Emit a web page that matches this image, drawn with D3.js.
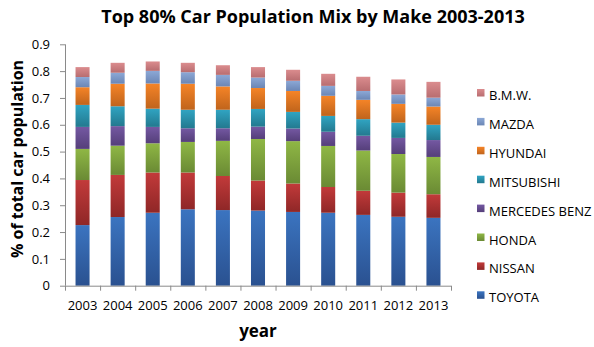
<!DOCTYPE html>
<html>
<head>
<meta charset="utf-8">
<script src="https://cdn.jsdelivr.net/npm/d3@7"></script>
<style>
  html, body { margin: 0; padding: 0; background: #fff; }
  svg { display: block; font-family: "Open Sans", "Liberation Sans", sans-serif; }
</style>
</head>
<body>
<svg id="chart" width="594" height="347"></svg>
<script>
const years = ["2003","2004","2005","2006","2007","2008","2009","2010","2011","2012","2013"];
const makes = ["TOYOTA","NISSAN","HONDA","MERCEDES BENZ","MITSUBISHI","HYUNDAI","MAZDA","B.M.W."];
const toyota     = [0.226,0.256,0.272,0.285,0.282,0.280,0.275,0.272,0.264,0.257,0.253];
const nissan     = [0.168,0.157,0.150,0.137,0.127,0.112,0.106,0.096,0.090,0.090,0.088];
const honda      = [0.116,0.109,0.109,0.114,0.131,0.155,0.158,0.153,0.150,0.144,0.139];
const mercedes   = [0.082,0.073,0.061,0.051,0.047,0.046,0.047,0.053,0.055,0.060,0.063];
const mitsubishi = [0.082,0.074,0.068,0.069,0.069,0.066,0.062,0.059,0.062,0.057,0.057];
const hyundai    = [0.066,0.084,0.094,0.097,0.087,0.078,0.078,0.075,0.072,0.070,0.068];
const mazda      = [0.038,0.041,0.047,0.043,0.043,0.039,0.038,0.037,0.033,0.035,0.033];
const bmw        = [0.037,0.037,0.035,0.035,0.036,0.039,0.041,0.045,0.053,0.056,0.059];
const yTicks = [0,0.1,0.2,0.3,0.4,0.5,0.6,0.7,0.8,0.9];
const seriesValues = [toyota,nissan,honda,mercedes,mitsubishi,hyundai,mazda,bmw];
const colorsTop    = ["#3b74c0","#c23a3a","#8fb745","#7458a2","#30a4c2","#f58427","#8ca8d6","#db8c8e"];
const colorsBottom = ["#2a5190","#8f2727","#6a8a34","#553f7a","#23798f","#c0641c","#6b86b5","#b86d70"];

const rows = years.map((yr, i) => {
  const r = { year: yr };
  makes.forEach((m, k) => r[m] = seriesValues[k][i]);
  return r;
});
const stacked = d3.stack().keys(makes)(rows);

const svg = d3.select("#chart");
const pLeft = 65, pRight = 451, pTop = 44.3, pBottom = 285.7;

const x = d3.scaleBand().domain(years).range([pLeft, pRight]).paddingInner(0.6).paddingOuter(0.3);
const xTicksScale = d3.scaleBand().domain(years).range([pLeft, pRight]);
const y = d3.scaleLinear().domain([0, 0.9]).range([pBottom, pTop]);

const defs = svg.append("defs");
makes.forEach((m, k) => {
  const g = defs.append("linearGradient").attr("id", "g" + k)
    .attr("x1", 0).attr("y1", 0).attr("x2", 0).attr("y2", 1);
  g.append("stop").attr("offset", "0%").attr("stop-color", colorsTop[k]);
  g.append("stop").attr("offset", "100%").attr("stop-color", colorsBottom[k]);
});

// Title
svg.append("text").attr("x", 313).attr("y", 23).attr("text-anchor", "middle")
  .attr("font-weight", "bold").attr("font-size", 18).attr("fill", "#000")
  .text("Top 80% Car Population Mix by Make 2003-2013");

// Bars
svg.append("g").selectAll("g").data(stacked).join("g")
  .attr("fill", (d, k) => `url(#g${k})`)
  .selectAll("rect").data(d => d).join("rect")
  .attr("x", d => x(d.data.year))
  .attr("width", x.bandwidth())
  .attr("y", d => y(d[1]))
  .attr("height", d => y(d[0]) - y(d[1]));

// Y axis
const yAxis = svg.append("g").attr("transform", `translate(${pLeft},0)`)
  .call(d3.axisLeft(y).tickValues(yTicks).tickSize(5).tickPadding(10).tickFormat(d => d === 0 ? "0" : d3.format(".1f")(d)));
yAxis.select(".domain").attr("stroke", "#8a8a8a").attr("d", `M0.5,${pTop}V${pBottom}`);
yAxis.selectAll(".tick line").attr("stroke", "#8a8a8a");
yAxis.selectAll(".tick text").attr("font-size", 13).attr("fill", "#000").attr("font-family", "Open Sans, sans-serif");

// X axis
const xAxisG = svg.append("g").attr("transform", `translate(0,${pBottom})`);
xAxisG.append("line").attr("x1", pLeft).attr("x2", pRight).attr("y1", 0.5).attr("y2", 0.5).attr("stroke", "#8a8a8a");
const bounds = years.map(yr => xTicksScale(yr)).concat([pRight]);
xAxisG.selectAll("line.t").data(bounds).join("line").attr("class", "t")
  .attr("x1", d => d + 0.5).attr("x2", d => d + 0.5).attr("y1", 0).attr("y2", 5).attr("stroke", "#8a8a8a");
xAxisG.selectAll("text").data(years).join("text")
  .attr("x", d => xTicksScale(d) + xTicksScale.bandwidth() / 2)
  .attr("y", 24).attr("text-anchor", "middle").attr("font-size", 13).attr("fill", "#000")
  .text(d => d);

// Axis titles
svg.append("text").attr("x", 258).attr("y", 337).attr("text-anchor", "middle")
  .attr("font-weight", "bold").attr("font-size", 17).text("year");
svg.append("text").attr("transform", "translate(23,159) rotate(-90)").attr("text-anchor", "middle")
  .attr("font-weight", "bold").attr("font-size", 16).text("% of total car population");

// Legend
const legendOrder = makes.slice().reverse();
const leg = svg.append("g").selectAll("g").data(legendOrder).join("g")
  .attr("transform", (d, i) => `translate(477,${95.5 + i * 28.9})`);
leg.append("rect").attr("x", 0).attr("y", -6.5).attr("width", 7.5).attr("height", 7.5)
  .attr("fill", d => `url(#g${makes.indexOf(d)})`);
leg.append("text").attr("x", 12).attr("y", 4.5).attr("font-size", 13).attr("fill", "#000").text(d => d);
</script>
</body>
</html>
